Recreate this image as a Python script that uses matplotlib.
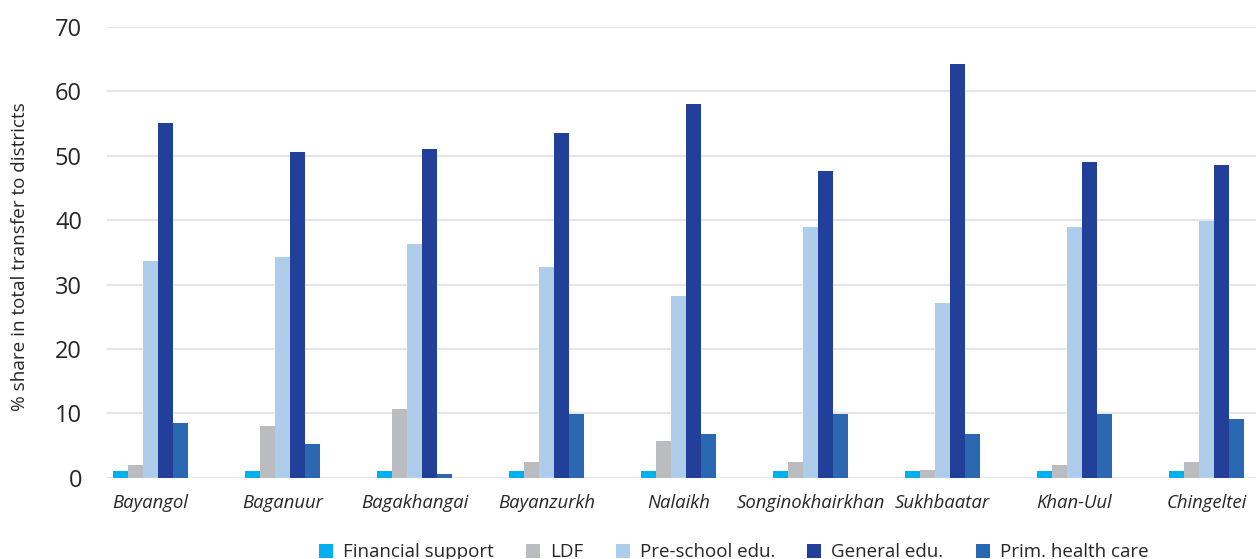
import numpy as np
import matplotlib
matplotlib.use('Agg')
import matplotlib.pyplot as plt
from matplotlib.lines import Line2D

plt.rcParams['font.family'] = ['Open Sans', 'DejaVu Sans']

districts = ['Bayangol', 'Baganuur', 'Bagakhangai', 'Bayanzurkh', 'Nalaikh',
             'Songinokhairkhan', 'Sukhbaatar', 'Khan-Uul', 'Chingeltei']
series = ['Financial support', 'LDF', 'Pre-school edu.', 'General edu.', 'Prim. health care']

financial = [1.0, 1.0, 1.0, 1.0, 1.0, 1.0, 1.0, 1.0, 1.0]
ldf = [2.0, 8.0, 10.7, 2.5, 5.7, 2.5, 1.2, 2.0, 2.5]
preschool = [33.7, 34.3, 36.3, 32.7, 28.2, 38.9, 27.2, 38.9, 39.9]
general = [55.1, 50.6, 51.1, 53.6, 58.0, 47.6, 64.2, 49.1, 48.6]
health = [8.5, 5.2, 0.6, 9.9, 6.8, 9.9, 6.8, 9.9, 9.1]

colors = ['#00b0f0', '#bbbcc0', '#adcdeb', '#223f99', '#2b68b2']
values = [financial, ldf, preschool, general, health]

fig = plt.figure(figsize=(12.56, 5.59), dpi=100)
ax = fig.add_axes([107/1256, 1 - 477.7/559, 1 - 107/1256, (477.7 - 27)/559])

x = np.arange(len(districts))
w = 15/132
for k, (vals, col) in enumerate(zip(values, colors)):
    ax.bar(x + (k - 2)*w, vals, width=w, color=col, zorder=3, linewidth=0)

ax.set_xlim(-0.3295, 8.375)
ax.set_ylim(0, 70)
ax.set_yticks(range(0, 71, 10))
ax.yaxis.grid(True, color='#e6e6e6', linewidth=1.6, zorder=0)
ax.set_axisbelow(True)
for s in ax.spines.values():
    s.set_visible(False)
ax.tick_params(axis='both', length=0)
ax.tick_params(axis='y', labelsize=17, pad=18, labelcolor='#262626')
ax.set_xticks(x)
ax.set_xticklabels(districts, fontsize=13.3, style='italic', color='#262626')
ax.tick_params(axis='x', pad=12)
ax.set_ylabel('% share in total transfer to districts', fontsize=13.6, color='#262626')
ax.yaxis.set_label_coords(-0.068, 0.49)

handles = [Line2D([], [], linestyle='none', marker='s', markersize=10.5,
                  markerfacecolor=c, markeredgewidth=0) for c in colors]
fig.legend(handles, series, loc='center', bbox_to_anchor=(0.584, 0.012), ncol=5,
           frameon=False, fontsize=13.5, handlelength=0.8, handletextpad=0.5,
           columnspacing=1.7, labelcolor='#262626')

fig.savefig('out.png', dpi=100)
